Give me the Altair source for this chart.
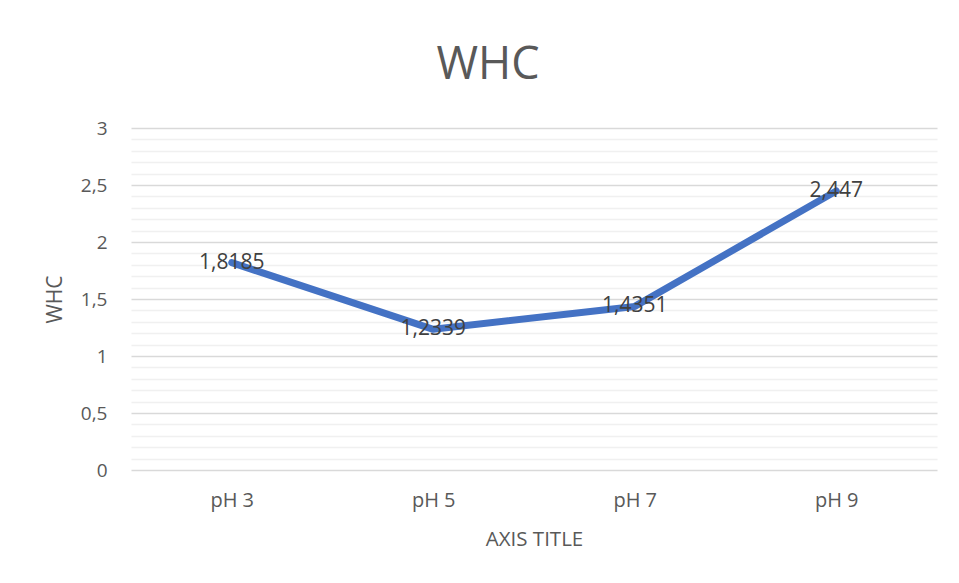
import altair as alt
import pandas as pd

categories = ["pH 3", "pH 5", "pH 7", "pH 9"]
whc_values = [1.8185, 1.2339, 1.4351, 2.447]
y_ticks = [0, 0.1, 0.2, 0.3, 0.4, 0.5, 0.6, 0.7, 0.8, 0.9, 1.0,
           1.1, 1.2, 1.3, 1.4, 1.5, 1.6, 1.7, 1.8, 1.9, 2.0,
           2.1, 2.2, 2.3, 2.4, 2.5, 2.6, 2.7, 2.8, 2.9, 3.0]

df = pd.DataFrame({"cat": categories, "WHC": whc_values})

FONT = "Open Sans"
GREY = "#595959"

x_scale = alt.Scale(type="point", padding=0.5)
y_scale = alt.Scale(domain=[0, 3], nice=False, zero=True)

x_enc = alt.X(
    "cat:N",
    sort=categories,
    scale=x_scale,
    axis=alt.Axis(
        title="AXIS TITLE",
        labelAngle=0,
        labelFontSize=20,
        labelColor=GREY,
        labelFont=FONT,
        labelPadding=20,
        ticks=False,
        domain=False,
        grid=False,
        titleFont=FONT,
        titleFontSize=20.5,
        titleFontWeight="normal",
        titleColor=GREY,
        titleY=69,
        titleBaseline="middle",
    ),
)

y_enc = alt.Y(
    "WHC:Q",
    scale=y_scale,
    axis=alt.Axis(
        title="WHC",
        values=y_ticks,
        labelOverlap=False,
        labelExpr="abs(datum.value*2 - round(datum.value*2)) < 0.001 ? replace(format(datum.value, '~g'), '.', ',') : ''",
        labelFontSize=19,
        labelColor=GREY,
        labelFont=FONT,
        labelPadding=24,
        ticks=False,
        domain=False,
        grid=True,
        gridColor={
            "condition": {
                "test": "abs(datum.value*2 - round(datum.value*2)) < 0.001",
                "value": "#d9d9d9",
            },
            "value": "#f0f0f0",
        },
        gridWidth=1.3,
        titleFont=FONT,
        titleFontSize=21,
        titleFontWeight="normal",
        titleColor=GREY,
        titleX=-76,
        titleY=171,
        titleAngle=-90,
        titleBaseline="middle",
        titleAlign="center",
    ),
)

base = alt.Chart(df).encode(x=x_enc, y=y_enc)

line = base.mark_line(color="#4472C4", strokeWidth=7, strokeCap="round", strokeJoin="round")

labels = base.transform_calculate(
    lab="replace(toString(datum.WHC), '.', ',')"
).mark_text(
    font=FONT, fontSize=21, color="#404040", align="center", baseline="middle"
).encode(text="lab:N")

chart = (
    alt.layer(line, labels)
    .properties(
        width=806,
        height=342,
        background="white",
        title=alt.TitleParams(
            "WHC",
            font=FONT,
            fontSize=45,
            fontWeight="normal",
            color=GREY,
            anchor="middle",
            dx=-46,
            offset=31,
        ),
        autosize=alt.AutoSizeParams(type="none"),
        padding={"left": 123, "top": 120, "right": 14, "bottom": 97},
    )
    .configure_view(strokeWidth=0)
)

chart.save("out.html", embed_options={"renderer": "svg", "actions": False})
